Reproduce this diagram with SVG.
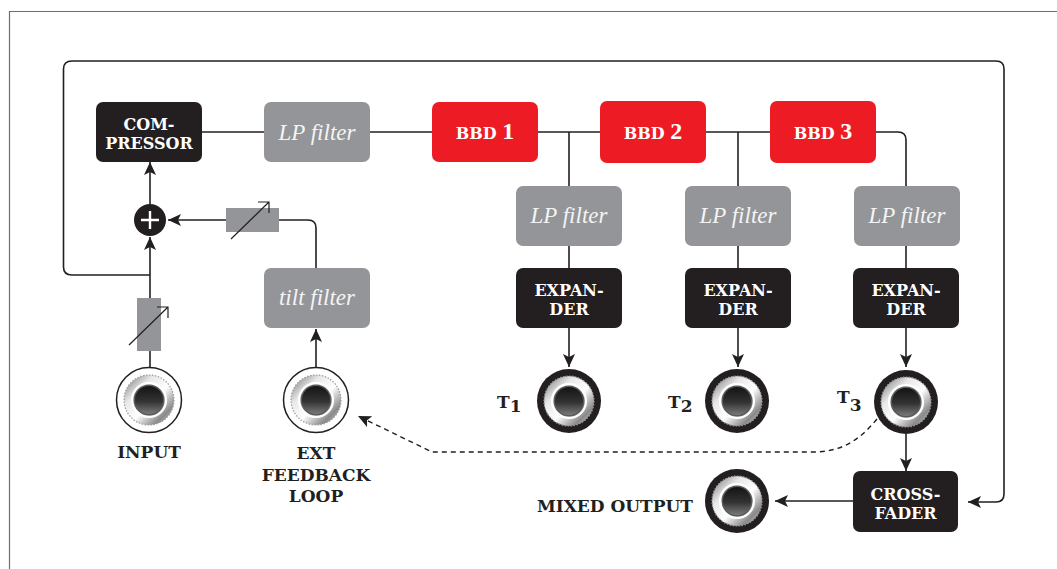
<svg xmlns="http://www.w3.org/2000/svg" width="1057" height="569" viewBox="0 0 1057 569">
<defs>
<style>
.blk{fill:#231f20}
.red{fill:#ed1c24}
.gry{fill:#939598}
.bt{font-family:"DejaVu Serif","Liberation Serif",serif;font-weight:bold;font-size:16px;fill:#fff;text-anchor:middle}
.it{font-family:"Liberation Serif",serif;font-style:italic;font-size:23px;fill:#f4f4f4;text-anchor:middle}
.lb{font-family:"DejaVu Serif","Liberation Serif",serif;font-weight:bold;font-size:17px;fill:#231f20;text-anchor:middle}
.tl{font-family:"DejaVu Serif","Liberation Serif",serif;font-weight:bold;font-size:17px;fill:#231f20}
.ln{fill:none;stroke:#231f20;stroke-width:1.6}
.thin{fill:none;stroke:#231f20;stroke-width:1.2}
.dash{fill:none;stroke:#231f20;stroke-width:1.4;stroke-dasharray:5 4}
.arr{marker-end:url(#ah)}
</style>
<marker id="ah" markerUnits="userSpaceOnUse" markerWidth="14" markerHeight="12" refX="13" refY="6" orient="auto">
<path d="M0,0 L13,6 L0,12 L3,6 z" fill="#231f20"/>
</marker>
<linearGradient id="silver" x1="0" y1="0" x2="1" y2="1">
<stop offset="0" stop-color="#6f6f6f"/>
<stop offset="0.3" stop-color="#e8e8e8"/>
<stop offset="0.55" stop-color="#ffffff"/>
<stop offset="0.8" stop-color="#8a8a8a"/>
<stop offset="1" stop-color="#cfcfcf"/>
</linearGradient>
<linearGradient id="hole" x1="0" y1="0" x2="0" y2="1">
<stop offset="0" stop-color="#141414"/>
<stop offset="0.55" stop-color="#333"/>
<stop offset="1" stop-color="#7a7a7a"/>
</linearGradient>
<g id="insert">
<circle r="25" fill="url(#silver)"/>
<circle r="25" fill="none" stroke="#9a9a9a" stroke-width="1.2" stroke-dasharray="1.5 1.5"/>
<circle r="17" fill="none" stroke="#ffffff" stroke-width="2.2"/>
<circle r="15.5" fill="#5a5a5a"/>
<circle r="14" fill="url(#hole)"/>
</g>
<g id="jackT">
<circle r="32" fill="#231f20"/>
<use href="#insert"/>
</g>
<g id="jackW">
<circle r="32.5" fill="#fff" stroke="#231f20" stroke-width="1.5"/>
<use href="#insert"/>
</g>
</defs>
<rect width="1057" height="569" fill="#fff"/>
<path d="M9.5,569 V11.5 H1057" fill="none" stroke="#6d6e71" stroke-width="1.2"/>

<g id="connectors">
<path class="ln" d="M202,132 H264"/>
<path class="ln" d="M370,132 H432"/>
<path class="ln" d="M538,132 H600"/>
<path class="ln" d="M706,132 H770"/>
<path class="ln" d="M875,132 H898 Q906,132 906,140 V186"/>
<path class="ln" d="M569,132 V186"/>
<path class="ln" d="M738,132 V186"/>
<path class="ln" d="M569,246 V268"/>
<path class="ln" d="M738,246 V268"/>
<path class="ln" d="M906,246 V268"/>
<path class="ln arr" d="M569,328 V367"/>
<path class="ln arr" d="M738,328 V367"/>
<path class="ln arr" d="M906,328 V367"/>
<path class="ln arr" d="M906,434 V471"/>
<path class="ln arr" d="M853,501 H775"/>
<path class="ln arr" d="M150,275 H72 Q63.5,275 63.5,267 V69 Q63.5,61 72,61 H996 Q1004,61 1004,69 V494 Q1004,502 996,502 H968"/>
<path class="ln" d="M150,367 V351"/>
<path class="ln arr" d="M150,298 V237"/>
<path class="ln arr" d="M150,204 V162"/>
<path class="ln arr" d="M316,367 V329"/>
<path class="ln" d="M316,268 V228 Q316,220 308,220 H279"/>
<path class="ln arr" d="M226,220 H168"/>
<path class="dash arr" d="M877,419 C858,442 840,452 812,452 H432 L358,416"/>
</g>

<g id="compressor">
<rect class="blk" x="96" y="102" width="106" height="60" rx="7"/>
<text class="bt" x="149" y="130">COM-</text>
<text class="bt" x="149" y="149">PRESSOR</text>
</g>
<g id="lp0">
<rect class="gry" x="264" y="102" width="106" height="60" rx="7"/>
<text class="it" x="317" y="140">LP filter</text>
</g>
<g id="bbd1">
<rect class="red" x="432" y="102" width="106" height="60" rx="7"/>
<text class="bt" x="485" y="139">BBD <tspan font-family="Liberation Serif,serif" font-size="24">1</tspan></text>
</g>
<g id="bbd2">
<rect class="red" x="600" y="101" width="106" height="62" rx="7"/>
<text class="bt" x="653" y="139">BBD <tspan font-family="Liberation Serif,serif" font-size="24">2</tspan></text>
</g>
<g id="bbd3">
<rect class="red" x="770" y="101" width="106" height="62" rx="7"/>
<text class="bt" x="823" y="139">BBD <tspan font-family="Liberation Serif,serif" font-size="24">3</tspan></text>
</g>
<g id="lp1">
<rect class="gry" x="516" y="186" width="106" height="60" rx="7"/>
<text class="it" x="569" y="223">LP filter</text>
</g>
<g id="lp2">
<rect class="gry" x="685" y="186" width="106" height="60" rx="7"/>
<text class="it" x="738" y="223">LP filter</text>
</g>
<g id="lp3">
<rect class="gry" x="854" y="186" width="106" height="60" rx="7"/>
<text class="it" x="907" y="223">LP filter</text>
</g>
<g id="exp1">
<rect class="blk" x="516" y="268" width="106" height="60" rx="7"/>
<text class="bt" x="569" y="296">EXPAN-</text>
<text class="bt" x="569" y="315">DER</text>
</g>
<g id="exp2">
<rect class="blk" x="685" y="268" width="106" height="60" rx="7"/>
<text class="bt" x="738" y="296">EXPAN-</text>
<text class="bt" x="738" y="315">DER</text>
</g>
<g id="exp3">
<rect class="blk" x="853" y="268" width="106" height="60" rx="7"/>
<text class="bt" x="906" y="296">EXPAN-</text>
<text class="bt" x="906" y="315">DER</text>
</g>
<g id="tilt">
<rect class="gry" x="264" y="268" width="106" height="60" rx="7"/>
<text class="it" x="317" y="305">tilt filter</text>
</g>
<g id="crossfader">
<rect class="blk" x="853" y="471" width="105" height="61" rx="7"/>
<text class="bt" x="905.5" y="500">CROSS-</text>
<text class="bt" x="905.5" y="519">FADER</text>
</g>
<g id="sum">
<circle cx="150" cy="220" r="16" fill="#231f20"/>
<path d="M141,220 H159 M150,211 V229" stroke="#fff" stroke-width="2.4" fill="none"/>
</g>
<g id="pot-feedback">
<rect class="gry" x="226" y="208" width="53" height="24"/>
<path class="thin" d="M231,239 L269,202 M258,202 H269 V213"/>
</g>
<g id="pot-input">
<rect class="gry" x="137" y="298" width="24" height="53"/>
<path class="thin" d="M129,345 L168,307 M157,307 H168 V318"/>
</g>
<g id="input">
<use href="#jackW" x="149" y="400"/>
<text class="lb" x="149" y="458">INPUT</text>
</g>
<g id="ext">
<use href="#jackW" x="316" y="400"/>
<text class="lb" x="316" y="459">EXT</text>
<text class="lb" x="316" y="481">FEEDBACK</text>
<text class="lb" x="316" y="502">LOOP</text>
</g>
<g id="t1">
<use href="#jackT" x="569" y="401"/>
<text class="tl" x="497" y="408">T<tspan font-size="17" dy="4">1</tspan></text>
</g>
<g id="t2">
<use href="#jackT" x="737" y="401"/>
<text class="tl" x="668" y="408">T<tspan font-size="17" dy="4">2</tspan></text>
</g>
<g id="t3">
<use href="#jackT" x="906" y="402"/>
<text class="tl" x="837" y="403">T<tspan font-size="17" dy="8">3</tspan></text>
</g>
<g id="mixed">
<use href="#jackT" x="737" y="501"/>
<text class="lb" x="693" y="512" style="text-anchor:end">MIXED OUTPUT</text>
</g>
</svg>
